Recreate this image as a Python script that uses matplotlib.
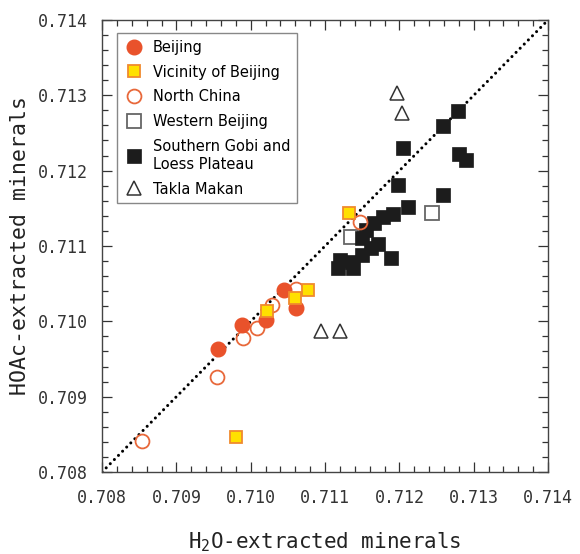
import matplotlib
matplotlib.use("Agg")
import matplotlib.pyplot as plt
from matplotlib.ticker import MultipleLocator, FormatStrFormatter

# Sr isotope ratios (x: H2O-extracted, y: HOAc-extracted)
beijing_x = [0.70956, 0.70988, 0.71021, 0.71045, 0.71061]
beijing_y = [0.70963, 0.70995, 0.71002, 0.71042, 0.71018]

vicinity_x = [0.71022, 0.71060, 0.71077, 0.70980, 0.71132]
vicinity_y = [0.71014, 0.71031, 0.71042, 0.70846, 0.71144]

north_x = [0.70854, 0.70955, 0.70990, 0.71009, 0.71029, 0.71061, 0.71147]
north_y = [0.70841, 0.70926, 0.70978, 0.70991, 0.71022, 0.71043, 0.71132]

western_x = [0.71135, 0.71244]
western_y = [0.71112, 0.71144]

gobi_x = [0.71279, 0.71259, 0.71205, 0.71280, 0.71290, 0.71198, 0.71258,
          0.71212, 0.71192, 0.71178, 0.71166, 0.71155, 0.71150, 0.71171,
          0.71162, 0.71189, 0.71120, 0.71136, 0.71150, 0.71118, 0.71138]
gobi_y = [0.71279, 0.71259, 0.71230, 0.71222, 0.71214, 0.71181, 0.71168,
          0.71152, 0.71143, 0.71139, 0.71131, 0.71121, 0.71111, 0.71103,
          0.71097, 0.71084, 0.71082, 0.71079, 0.71088, 0.71071, 0.71071]

takla_x = [0.71197, 0.71204, 0.71095, 0.71120]
takla_y = [0.71303, 0.71277, 0.70987, 0.70987]

axis_min, axis_max = 0.708, 0.714

mono = "DejaVu Sans Mono"

fig = plt.figure(figsize=(5.8, 5.54), dpi=100)
ax = fig.add_axes([0.176, 0.148, 0.769, 0.816])

# 1:1 line
ax.plot([axis_min, axis_max], [axis_min, axis_max], color="black", lw=2.2,
        linestyle=(0, (0.01, 1.9)), dash_capstyle="round", zorder=1)

ax.plot(western_x, western_y, "s", ms=10, mfc="white", mec="#666666", mew=1.3,
        ls="none", label="Western Beijing", zorder=2)
ax.plot(gobi_x, gobi_y, "s", ms=10.5, mfc="#1c1c1c", mec="#1c1c1c", mew=0.5,
        ls="none", label="Southern Gobi and\nLoess Plateau", zorder=3)
ax.plot(takla_x, takla_y, "^", ms=10, mfc="white", mec="#333333", mew=1.1,
        ls="none", label="Takla Makan", zorder=3)
ax.plot(north_x, north_y, "o", ms=10, mfc="none", mec="#E8683A", mew=1.3,
        ls="none", label="North China", zorder=4)
ax.plot(beijing_x, beijing_y, "o", ms=10.5, mfc="#E9522B", mec="#E9522B",
        ls="none", label="Beijing", zorder=5)
ax.plot(vicinity_x, vicinity_y, "s", ms=9, mfc="#FFE000", mec="#F08A2E", mew=1.3,
        ls="none", label="Vicinity of Beijing", zorder=6)

ax.set_xlim(axis_min, axis_max)
ax.set_ylim(axis_min, axis_max)
ax.xaxis.set_major_locator(MultipleLocator(0.001))
ax.yaxis.set_major_locator(MultipleLocator(0.001))
ax.xaxis.set_minor_locator(MultipleLocator(0.0002))
ax.yaxis.set_minor_locator(MultipleLocator(0.0002))
ax.xaxis.set_major_formatter(FormatStrFormatter("%.3f"))
ax.yaxis.set_major_formatter(FormatStrFormatter("%.3f"))
ax.tick_params(which="both", direction="in", top=True, right=True,
               color="#333333", width=0.9)
ax.tick_params(which="major", length=7)
ax.tick_params(which="minor", length=4)
ax.tick_params(axis="x", which="major", pad=12)
ax.tick_params(axis="y", which="major", pad=10)
for lab in ax.get_xticklabels() + ax.get_yticklabels():
    lab.set_fontfamily(mono)
    lab.set_fontsize(12)
    lab.set_color("#333333")
for sp in ax.spines.values():
    sp.set_color("#444444")
    sp.set_linewidth(1.0)

ax.set_xlabel(r"H$_{\mathregular{2}}$O-extracted minerals", fontfamily=mono,
              fontsize=15, labelpad=17, color="#222222")
ax.set_ylabel("HOAc-extracted minerals", fontfamily=mono, fontsize=15.5,
              labelpad=6, color="#222222")

handles, labels = ax.get_legend_handles_labels()
order = ["Beijing", "Vicinity of Beijing", "North China", "Western Beijing",
         "Southern Gobi and\nLoess Plateau", "Takla Makan"]
hmap = dict(zip(labels, handles))
leg = ax.legend([hmap[k] for k in order], order, loc="upper left",
                bbox_to_anchor=(0.034, 0.971), borderaxespad=0, fancybox=False,
                edgecolor="#888888", framealpha=1, fontsize=10.5,
                handletextpad=0.6, labelspacing=0.68, borderpad=0.45,
                handlelength=1.4)
leg.get_frame().set_linewidth(1.0)

fig.savefig("out.png", dpi=100)
